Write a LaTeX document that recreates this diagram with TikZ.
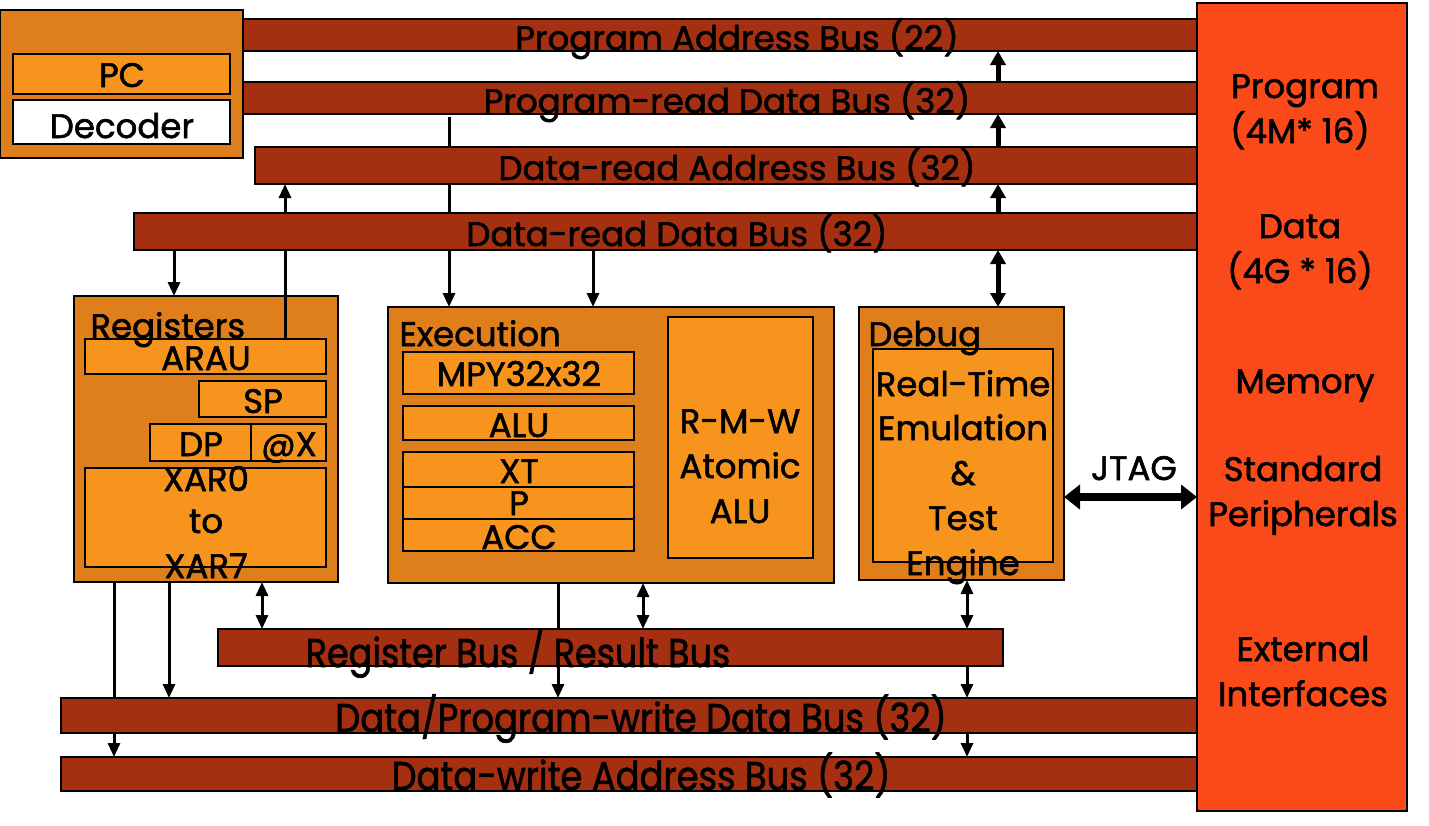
\documentclass[tikz,border=0pt]{standalone}
\usepackage{fontspec}
\setmainfont{Poppins}[FakeBold=1.6]
\usetikzlibrary{arrows.meta,fit}
\definecolor{busc}{RGB}{165,47,17}
\definecolor{outc}{RGB}{222,127,27}
\definecolor{inc}{RGB}{247,148,29}
\definecolor{memc}{RGB}{250,74,26}
\pgfdeclarelayer{front}
\pgfsetlayers{main,front}
\begin{document}
\begin{tikzpicture}[x=0.5pt,y=-0.5pt,
  blk/.style={draw=black,line width=1.3pt,inner sep=0pt,outer sep=0pt},
  bus/.style={blk,fill=busc},
  outerbox/.style={blk,fill=outc},
  innerbox/.style={blk,fill=inc},
  lbl/.style={inner sep=0pt,font=\fontsize{17}{22}\selectfont,anchor=base},
  lbll/.style={lbl,anchor=base west},
  arr/.style={line width=1.5pt,-{Triangle[width=6pt,length=7pt]}},
  darr/.style={line width=1.5pt,{Triangle[width=6pt,length=7pt]}-{Triangle[width=6pt,length=7pt]}},
  tarr/.style={line width=2.5pt,-{Triangle[width=7.5pt,length=7pt]}},
  tdarr/.style={line width=2.5pt,{Triangle[width=7.5pt,length=7pt]}-{Triangle[width=7.5pt,length=7pt]}},
  jarr/.style={line width=4pt,{Triangle[width=12pt,length=8pt]}-{Triangle[width=12pt,length=8pt]}},
]
\useasboundingbox (0,0) rectangle (1429,825);

% ---------- boxes ----------
\node[outerbox, fit={(0,10)(243,158)}] (pcbox) {};
\node[innerbox, fit={(13,54)(230,94)}] (pc) {};
\node[blk, fill=white, fit={(13,100)(230,144)}] (dec) {};

\node[blk, fill=memc, fit={(1197,3)(1407,811)}] (mem) {};

\node[outerbox, fit={(74,296)(338,582)}] (regs) {};
\node[innerbox, fit={(85,339)(326,374)}] (arau) {};
\node[innerbox, fit={(199,381)(326,417)}] (sp) {};
\node[innerbox, fit={(150,424)(251,461)}] (dp) {};
\node[innerbox, fit={(251,424)(326,461)}] (atx) {};
\node[innerbox, fit={(85,468)(326,567)}] (xar) {};

\node[outerbox, fit={(388,307)(834,583)}] (exec) {};
\node[innerbox, fit={(403,352)(634,394)}] (mpy) {};
\node[innerbox, fit={(403,406)(634,440)}] (alu) {};
\node[innerbox, fit={(403,452)(634,487)}] (xt) {};
\node[innerbox, fit={(403,487)(634,519)}] (preg) {};
\node[innerbox, fit={(403,519)(634,551)}] (acc) {};
\node[innerbox, fit={(668,317)(813,558)}] (rmw) {};

\node[outerbox, fit={(859,307)(1064,580)}] (dbg) {};
\node[innerbox, fit={(873,349)(1053,562)}] (rte) {};

% ---------- box labels ----------
\node[lbl] (tpc) at (122,87) {PC};
\node[lbl] (tdec) at (122,138) {Decoder};

\node[lbll] (tregs) at (90,338) {Registers};
\node[lbl] (tarau) at (206,370) {ARAU};
\node[lbl] (tsp) at (263,413) {SP};
\node[lbl] (tdp) at (201,456) {DP};
\node[lbl] (tatx) at (289,456) {@X};
\node[lbl] (txar0) at (206,491) {XAR0};
\node[lbl] (tto) at (206,533) {to};
\node[lbl] (txar7) at (206,578) {XAR7};

\node[lbll] (texec) at (399,346) {Execution};
\node[lbl] (tmpy) at (519,386) {MPY32x32};
\node[lbl] (talu) at (519,437) {ALU};
\node[lbl] (txt) at (519,483) {XT};
\node[lbl] (tp) at (519,515) {P};
\node[lbl] (tacc) at (519,549) {ACC};
\node[lbl] (trmw1) at (740,433) {R-M-W};
\node[lbl] (trmw2) at (740,478) {Atomic};
\node[lbl] (trmw3) at (740,523) {ALU};

\node[lbll] (tdbg) at (868,346) {Debug};
\node[lbl] (trte1) at (963,396) {Real-Time};
\node[lbl] (trte2) at (963,440) {Emulation};
\node[lbl] (trte3) at (963,485) {\&};
\node[lbl] (trte4) at (963,530) {Test};
\node[lbl] (trte5) at (963,575) {Engine};

\node[lbl] (tjtag) at (1134,480) {JTAG};

\node[lbl] (tm1) at (1305,98) {Program};
\node[lbl] (tm2) at (1300,143) {(4M* 16)};
\node[lbl] (tm3) at (1300,238) {Data};
\node[lbl] (tm4) at (1300,283) {(4G * 16)};
\node[lbl] (tm5) at (1305,393) {Memory};
\node[lbl] (tm6) at (1303,481) {Standard};
\node[lbl] (tm7) at (1303,526) {Peripherals};
\node[lbl] (tm8) at (1303,661) {External};
\node[lbl] (tm9) at (1303,706) {Interfaces};

% ---------- buses (front layer) ----------
\begin{pgfonlayer}{front}
\node[bus, fit={(243,19)(1197,51)}] (pab) {};
\node[bus, fit={(243,82)(1197,114)}] (prd) {};
\node[bus, fit={(255,147)(1197,184)}] (dra) {};
\node[bus, fit={(134,213)(1197,250)}] (drd) {};
\node[bus, fit={(218,629)(1003,666)}] (rb) {};
\node[bus, fit={(61,698)(1197,733)}] (dpw) {};
\node[bus, fit={(61,757)(1197,791)}] (dwa) {};

\node[lbl] (tpab) at (737,50) {Program Address Bus (22)};
\node[lbl] (tprd) at (727,113) {Program-read Data Bus (32)};
\node[lbl] (tdra) at (737,180) {Data-read Address Bus (32)};
\node[lbl] (tdrd) at (677,246) {Data-read Data Bus (32)};
\node[lbl] (trb) at (518,667) {\scalebox{1.03}[1.18]{Register Bus / Result Bus}};
\node[lbl] (tdpw) at (641,732) {\scalebox{1.04}[1.18]{Data/Program-write Data Bus (32)}};
\node[lbl] (tdwa) at (641,790) {\scalebox{1.04}[1.18]{Data-write Address Bus (32)}};
\end{pgfonlayer}

% ---------- connectors ----------
\coordinate (x998) at (998,0);
\coordinate (x449) at (449,0);
\coordinate (x593) at (593,0);
\coordinate (x174) at (174,0);
\coordinate (x285) at (285,0);
\coordinate (x114) at (114,0);
\coordinate (x169) at (169,0);
\coordinate (x262) at (262,0);
\coordinate (x558) at (558,0);
\coordinate (x643) at (643,0);
\coordinate (x967) at (967,0);
\coordinate (y497) at (0,497);

\draw[tarr] (x998 |- prd.north) -- (x998 |- pab.south);
\draw[tarr] (x998 |- dra.north) -- (x998 |- prd.south);
\draw[tarr] (x998 |- drd.north) -- (x998 |- dra.south);
\draw[tdarr] (x998 |- drd.south) -- (x998 |- dbg.north);

\draw[arr] ([yshift=-1.5pt]x449 |- prd.south) -- (x449 |- exec.north);
\draw[arr] (x593 |- drd.south) -- (x593 |- exec.north);
\draw[arr] (x174 |- drd.south) -- (x174 |- regs.north);
\draw[arr] (x285 |- arau.north) -- (x285 |- dra.south);

\draw[arr] (x114 |- regs.south) -- (x114 |- dwa.north);
\draw[arr] (x169 |- regs.south) -- (x169 |- dpw.north);
\draw[darr] (x262 |- regs.south) -- (x262 |- rb.north);
\draw[arr] (x558 |- exec.south) -- (x558 |- dpw.north);
\draw[darr] (x643 |- exec.south) -- (x643 |- rb.north);
\draw[darr] (x967 |- dbg.south) -- (x967 |- rb.north);
\draw[arr] (x967 |- rb.south) -- (x967 |- dpw.north);
\draw[arr] (x967 |- dpw.south) -- (x967 |- dwa.north);

\draw[jarr] (dbg.east |- y497) -- (mem.west |- y497);
\end{tikzpicture}
\end{document}
